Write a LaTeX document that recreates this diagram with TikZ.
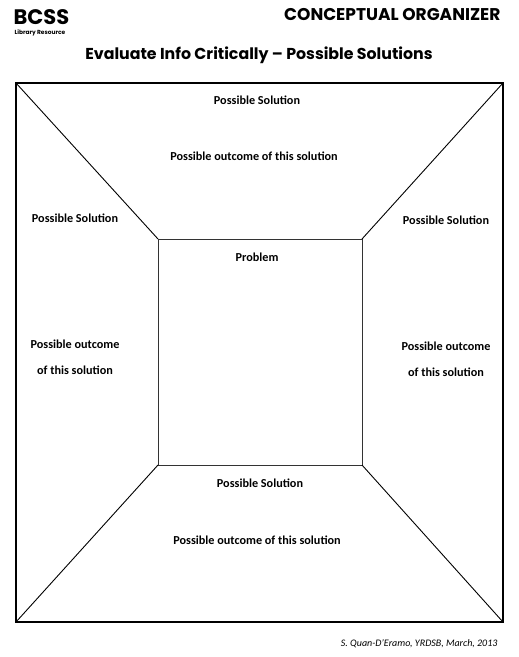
\documentclass[tikz,border=0pt]{standalone}
\usepackage{fontspec}
\setmainfont{Carlito}
\newfontfamily\gothic{Poppins}
\usetikzlibrary{positioning}

\begin{document}
\begin{tikzpicture}[x=1pt, y=-1pt]
	\tikzstyle{frame} = [rectangle, draw=black, line width=1.2pt, inner sep=0pt, outer sep=0pt]
	\tikzstyle{label} = [font=\fontsize{12.2}{14}\selectfont\bfseries, align=center]
	\tikzstyle{diag}  = [line width=0.9pt]

	\useasboundingbox (0,0) rectangle (519,657);

	% heading
	\node[font=\gothic\bfseries\fontsize{21}{24}\selectfont, anchor=west](bcss) at (10,17){BCSS};
	\node[font=\gothic\bfseries\fontsize{5.9}{7}\selectfont, anchor=west](library) at (11,33){Library Resource};
	\node[font=\gothic\bfseries\fontsize{17}{20}\selectfont, anchor=east](organizer) at (504,15){CONCEPTUAL ORGANIZER};
	\node[font=\gothic\bfseries\fontsize{15.8}{19}\selectfont](heading) at (259,55){Evaluate Info Critically – Possible Solutions};

	% boxes
	\node[frame, minimum width=487pt, minimum height=539pt](outer) at (259.5,352.5){};
	\node[frame, draw=black!80, line width=1pt, minimum width=204pt, minimum height=226pt](problembox) at (260,352){};

	\draw[diag] (outer.north west) to (problembox.north west);
	\draw[diag] (outer.north east) to (problembox.north east);
	\draw[diag] (outer.south west) to (problembox.south west);
	\draw[diag] (outer.south east) to (problembox.south east);

	% top
	\node[label](topsol) at (257,100){Possible Solution};
	\node[label](topout) at (254,156){Possible outcome of this solution};

	% left
	\node[label](leftsol) at (75,218){Possible Solution};
	\node[label](leftout) at (75,357){Possible outcome\\[12pt]of this solution};

	% right
	\node[label](rightsol) at (446,220){Possible Solution};
	\node[label](rightout) at (446,359){Possible outcome\\[12pt]of this solution};

	% centre
	\node[label](problem) at (257,257){Problem};

	% bottom
	\node[label](botsol) at (260,483){Possible Solution};
	\node[label](botout) at (257,540){Possible outcome of this solution};

	\node[font=\fontsize{10}{12}\selectfont\itshape, anchor=east](credit) at (501,644){S. Quan-D'Eramo, YRDSB, March, 2013};

\end{tikzpicture}
\end{document}
